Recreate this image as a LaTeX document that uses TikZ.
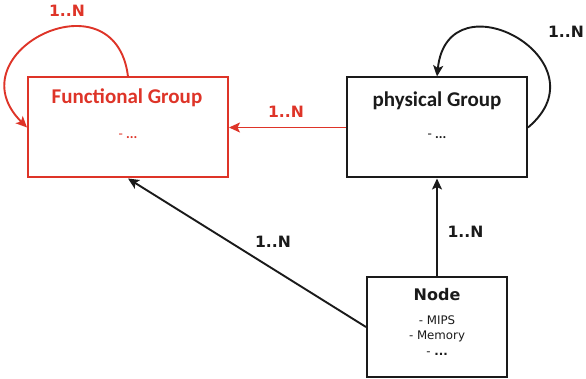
\documentclass[tikz,border=0pt]{standalone}
\usepackage{fontspec}
\setmainfont{DejaVu Sans}
\newfontfamily\carlito{Carlito}
\usetikzlibrary{arrows.meta}
\definecolor{grpred}{RGB}{222,52,40}
\definecolor{ink}{RGB}{26,26,26}
\tikzset{
  box/.style={draw, line width=2pt, minimum width=#1, minimum height=100pt, inner sep=0pt},
  link/.style={line width=1.9pt, -{Stealth[length=11pt,width=10pt,inset=2.5pt]}},
  mult/.style={font=\fontsize{15.6}{17}\selectfont\bfseries, inner sep=0pt, anchor=base},
  grptitle/.style={font=\carlito\fontsize{21}{24}\selectfont\bfseries, inner sep=0pt, anchor=base},
  grpitem/.style={font=\carlito\fontsize{14}{16}\selectfont, inner sep=0pt, anchor=base},
  nodeitem/.style={font=\fontsize{11.8}{13}\selectfont, inner sep=0pt, anchor=base},
}
\begin{document}
\begin{tikzpicture}[x=1pt,y=-1pt]
\useasboundingbox (0,0) rectangle (586,379);

% the three entity boxes
\node[box=200pt, draw=grpred] (fg) at (128,127.5) {};
\node[box=180pt, draw=ink] (pg) at (437,127.5) {};
\node[box=140pt, draw=ink] (nd) at (437,327) {};

% box contents
\node[grptitle, text=grpred] (fgt) at (127,104) {Functional Group};
\node[grpitem, text=grpred] (fgi) at (128,139) {- \textbf{...}};
\node[grptitle, text=ink] (pgt) at (437,107) {physical Group};
\node[grpitem, text=ink] (pgi) at (437,139) {- \textbf{...}};
\node[font=\fontsize{16}{18}\selectfont\bfseries, text=ink, inner sep=0pt, anchor=base] (ndt) at (437,301) {Node};
\node[nodeitem, text=ink] (nd1) at (437,324) {- MIPS};
\node[nodeitem, text=ink] (nd2) at (437,339) {- Memory};
\node[nodeitem, text=ink] (nd3) at (437,355) {- \textbf{...}};

% associations
\draw[link, draw=grpred] (fg.north) to[out=97, in=135, looseness=2.4] (fg.west);
\draw[link, draw=grpred] (pg.west) -- (fg.east);
\draw[link, draw=ink] (pg.east) to[out=40, in=84, looseness=2.55] (pg.north);
\draw[link, draw=ink] (nd.north) -- (pg.south);
\draw[link, draw=ink] (nd.west) -- (fg.south);

% multiplicities
\node[mult, text=grpred] (m1) at (67,17) {1..N};
\node[mult, text=grpred] (m2) at (286,118) {1..N};
\node[mult, text=ink] (m3) at (566,38) {1..N};
\node[mult, text=ink] (m4) at (465.5,238) {1..N};
\node[mult, text=ink] (m5) at (273,248) {1..N};
\end{tikzpicture}
\end{document}
